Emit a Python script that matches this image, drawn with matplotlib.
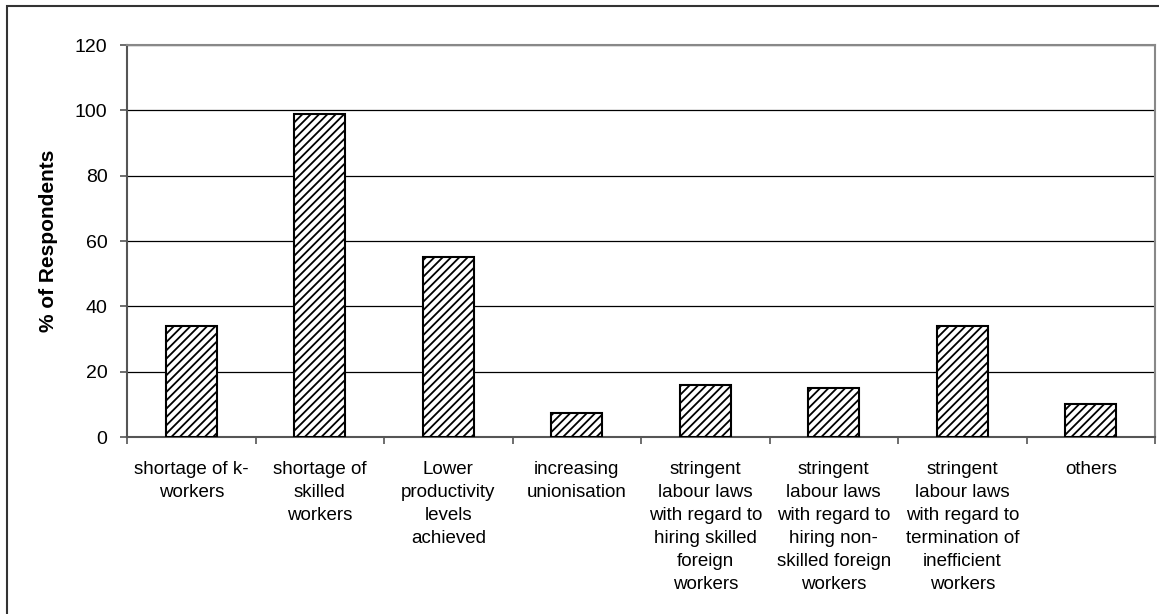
import matplotlib.pyplot as plt
import matplotlib.patches as mpatches
from matplotlib.ticker import FixedLocator

plt.rcParams['font.family'] = ['Liberation Sans', 'DejaVu Sans']
plt.rcParams['hatch.linewidth'] = 1.3
plt.rcParams['hatch.color'] = '#333333'

# survey responses
categories = [
    "shortage of k-\nworkers",
    "shortage of\nskilled\nworkers",
    "Lower\nproductivity\nlevels\nachieved",
    "increasing\nunionisation",
    "stringent\nlabour laws\nwith regard to\nhiring skilled\nforeign\nworkers",
    "stringent\nlabour laws\nwith regard to\nhiring non-\nskilled foreign\nworkers",
    "stringent\nlabour laws\nwith regard to\ntermination of\ninefficient\nworkers",
    "others",
]
respondents = [34, 99, 55, 7.5, 16, 15, 34, 10]
y_ticks = [0, 20, 40, 60, 80, 100, 120]

W, H = 1159, 614
fig = plt.figure(figsize=(W / 100, H / 100), dpi=100)

# outer chart frame
fig.patches.append(mpatches.Rectangle((7 / W, -0.1), 1.2, (H - 5.5) / H + 0.1,
                                      transform=fig.transFigure, fill=False,
                                      edgecolor='#333333', linewidth=1.5))

ax = fig.add_axes([127 / W, (H - 437) / H, 1028 / W, 392 / H])

x = range(len(categories))
ax.bar(x, respondents, width=0.4, color='white', edgecolor='black',
       linewidth=1.5, hatch='////', zorder=3)

ax.set_xlim(-0.5, len(categories) - 0.5)
ax.set_ylim(0, 120)
ax.set_yticks(y_ticks)
ax.yaxis.grid(True, color='black', linewidth=0.9)
ax.set_axisbelow(True)

ax.set_xticks(list(x))
ax.set_xticklabels(categories, fontsize=13.5, linespacing=1.47, va='top')
ax.xaxis.set_minor_locator(FixedLocator([i - 0.5 for i in range(len(categories) + 1)]))
ax.tick_params(axis='x', which='major', length=0, pad=17)
ax.tick_params(axis='x', which='minor', length=5, color='#555555', width=1.2)
ax.tick_params(axis='y', length=5, color='#555555', width=1.2, labelsize=14, pad=9)

for side in ['left', 'bottom']:
    ax.spines[side].set_color('#555555')
    ax.spines[side].set_linewidth(1.5)
for side in ['top', 'right']:
    ax.spines[side].set_color('#888888')
    ax.spines[side].set_linewidth(1.5)

ax.set_ylabel('% of Respondents', fontsize=15, fontweight='bold', labelpad=12)

fig.savefig('out.png', dpi=100)
